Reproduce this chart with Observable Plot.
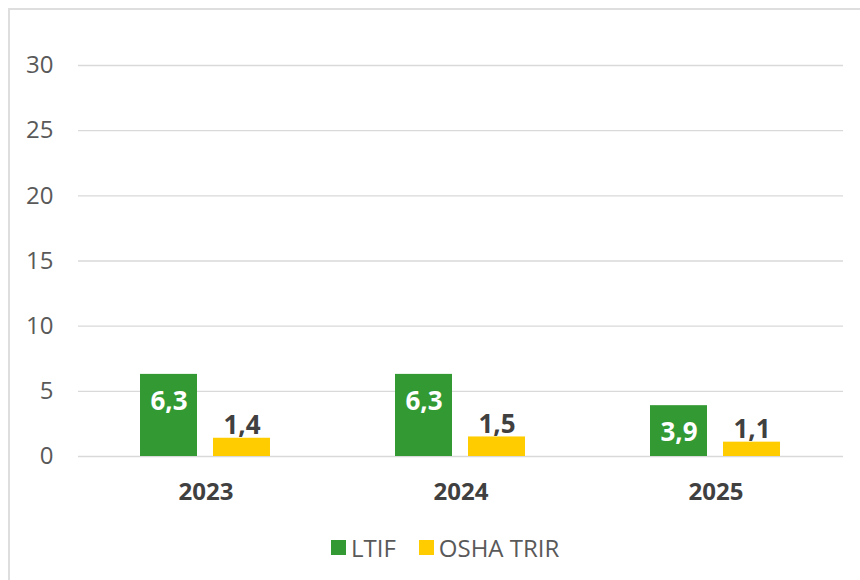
<!DOCTYPE html>
<html>
<head>
<meta charset="utf-8">
<script src="https://cdn.jsdelivr.net/npm/d3@7"></script>
<script src="https://cdn.jsdelivr.net/npm/@observablehq/plot@0.6"></script>
<style>
  html, body { margin: 0; padding: 0; background: #fff; }
  body { width: 860px; height: 580px; position: relative; overflow: hidden; font-family: "Open Sans", sans-serif; }
  #frame { position: absolute; left: 8px; top: 8px; width: 870px; height: 600px; border-left: 2px solid #dedede; border-top: 2px solid #dedede; box-sizing: border-box; }
  #chart { position: absolute; left: 0; top: 0; }
  #legend { position: absolute; left: 331px; top: 531px; display: flex; align-items: center; font-size: 24px; color: #595959; white-space: nowrap; }
  #legend .item { display: flex; align-items: center; margin-right: 23px; }
  #legend .sw { width: 15px; height: 15px; margin-right: 5px; margin-top: -1px; }
</style>
</head>
<body>
<div id="frame"></div>
<div id="chart"></div>
<div id="legend"></div>
<script>
const years = ["2023", "2024", "2025"];
const series = ["LTIF", "OSHA TRIR"];
const ltif = [6.3, 6.3, 3.9];
const oshaTrir = [1.4, 1.5, 1.1];
const colors = ["#339933", "#FFCC00"];
const yTicks = [0, 5, 10, 15, 20, 25, 30];

const data = [];
years.forEach((y, i) => {
  data.push({year: y, series: series[0], value: ltif[i]});
  data.push({year: y, series: series[1], value: oshaTrir[i]});
});
const fmt = d => d.value.toFixed(1).replace(".", ",");

const plot = Plot.plot({
  width: 860,
  height: 520,
  marginLeft: 78,
  marginRight: 17,
  marginTop: 65,
  marginBottom: 64,
  style: {fontFamily: "Open Sans", background: "transparent", overflow: "visible"},
  fx: {domain: years, padding: 0, label: null},
  x: {domain: series, paddingInner: 0.219, paddingOuter: 0.856, axis: null},
  y: {domain: [0, 30], label: null},
  color: {domain: series, range: colors},
  marks: [
    Plot.gridY(yTicks, {stroke: "#d9d9d9", strokeOpacity: 1, strokeWidth: 1.3}),
    Plot.axisY(yTicks, {tickSize: 0, tickPadding: 25, fontSize: 24, color: "#595959", label: null}),
    Plot.axisFx({anchor: "bottom", tickSize: 0, tickPadding: 26, fontSize: 24, fontWeight: "bold", color: "#404040", label: null}),
    Plot.barY(data, {fx: "year", x: "series", y: "value", fill: "series"}),
    Plot.text(data.filter(d => d.series === series[0]), {
      fx: "year", x: "series", y: "value", text: fmt,
      dy: 27, fill: "white", fontSize: 26, fontWeight: "bold"
    }),
    Plot.text(data.filter(d => d.series === series[1]), {
      fx: "year", x: "series", y: "value", text: fmt,
      lineAnchor: "bottom", dy: -4, fill: "#404040", fontSize: 26, fontWeight: "bold"
    })
  ]
});
document.getElementById("chart").appendChild(plot);

const legend = document.getElementById("legend");
series.forEach((s, i) => {
  const item = document.createElement("div");
  item.className = "item";
  const sw = document.createElement("div");
  sw.className = "sw";
  sw.style.background = colors[i];
  const label = document.createElement("span");
  label.textContent = s;
  item.appendChild(sw);
  item.appendChild(label);
  legend.appendChild(item);
});
</script>
</body>
</html>
